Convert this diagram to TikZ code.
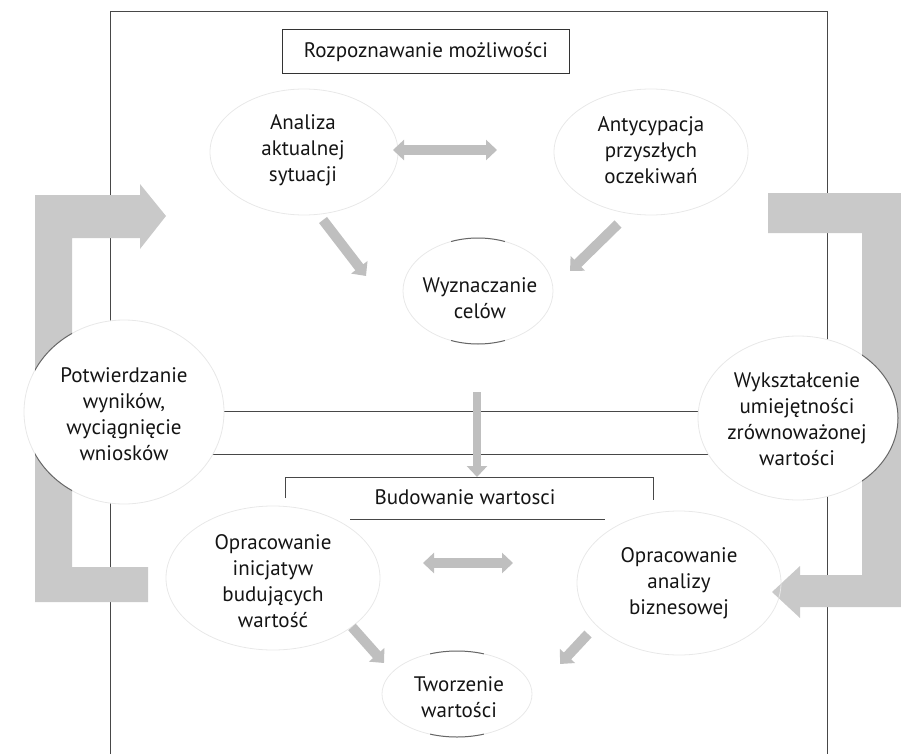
\documentclass[tikz,border=0pt]{standalone}
\usepackage{fontspec}
\setmainfont{PT Sans}
\usetikzlibrary{arrows.meta}
\begin{document}
\begin{tikzpicture}[x=1pt,y=-1pt,
  frameline/.style={draw=black!72,line width=1pt},
  bar/.style={fill=black!21,draw=none},
  faint/.style={draw=black!9,line width=0.8pt},
  darkarc/.style={draw=black!60,line width=1pt},
  fat/.style={draw=black!25,line width=10pt,-{Triangle[width=20pt,length=11pt]}},
  fatboth/.style={draw=black!25,line width=10pt,{Triangle[width=20pt,length=11pt]}-{Triangle[width=20pt,length=11pt]}},
  lbl/.style={align=center,font=\fontsize{21}{26}\selectfont,text=black!92,inner sep=0pt}
]
\useasboundingbox (0,0) rectangle (901,754);
% frame lines
\draw[frameline] (110,754) -- (110,12) -- (827,12) -- (827,754);
\draw[frameline] (110,411) -- (827,411);
\draw[frameline] (110,454) -- (827,454);
% big brackets
\path[bar] (35,195) -- (140,195) -- (140,184) -- (166,216) -- (140,249) -- (140,238) -- (72,238) -- (72,567) -- (148,567) -- (148,602) -- (35,602) -- cycle;
\path[bar] (905,193) -- (768,193) -- (768,233) -- (862,233) -- (862,575) -- (800,575) -- (800,566) -- (772,592) -- (800,618) -- (800,607) -- (905,607) -- cycle;
% side circles
\path[fill=white,faint] (124,412) ellipse [x radius=100, y radius=92];
\path[fill=white,faint] (798,418) ellipse [x radius=100, y radius=82];
\begin{scope}
  \clip (35,195) rectangle (72,602);
  \draw[darkarc] (124,412) ellipse [x radius=100, y radius=92];
\end{scope}
\begin{scope}
  \clip (862,193) rectangle (905,607);
  \draw[darkarc] (798,418) ellipse [x radius=100, y radius=82];
\end{scope}
% faint inner circles
\draw[faint] (304,152) ellipse [x radius=94, y radius=63];
\draw[faint] (651,152) ellipse [x radius=97, y radius=63];
\draw[faint] (478,291) ellipse [x radius=75, y radius=53];
\draw[faint] (273,578) ellipse [x radius=107, y radius=72];
\draw[faint] (679,583) ellipse [x radius=102, y radius=72];
\draw[faint] (457,694) ellipse [x radius=75, y radius=43];
% darker arc pieces
\draw[darkarc] ([shift={(249:75 and 53)}]478,291) arc[start angle=249,end angle=291,x radius=75,y radius=53];
\draw[darkarc] ([shift={(69:75 and 53)}]478,291) arc[start angle=69,end angle=111,x radius=75,y radius=53];
\draw[darkarc] ([shift={(249:75 and 43)}]457,694) arc[start angle=249,end angle=291,x radius=75,y radius=43];
\draw[darkarc] ([shift={(69:75 and 43)}]457,694) arc[start angle=69,end angle=111,x radius=75,y radius=43];
% title box
\node[lbl,draw=black!80,line width=1pt,minimum width=287pt,minimum height=44pt] (roz) at (426,52) {Rozpoznawanie możliwości};
% Budowanie bracket lines
\coordinate (budTL) at (285,498);
\coordinate (budTR) at (653,500);
\draw[frameline] (budTL) -- (285,477) -- (653,477) -- (budTR);
\draw[frameline] (350,519) -- (605,519);
% texts
\node[lbl] (ana) at (303,150) {Analiza\\aktualnej\\sytuacji};
\node[lbl] (ant) at (651,150) {Antycypacja\\przyszłych\\oczekiwań};
\node[lbl] (wyz) at (480,298) {Wyznaczanie\\celów};
\node[lbl] (pot) at (124,414) {Potwierdzanie\\wyników,\\wyciągnięcie\\wniosków};
\node[lbl] (wyk) at (797,419) {Wykształcenie\\umiejętności\\zrównoważonej\\wartości};
\node[lbl] (bud) at (465,497) {Budowanie wartosci};
\node[lbl] (opi) at (273,581) {Opracowanie\\inicjatyw\\budujących\\wartość};
\node[lbl] (opa) at (679,583) {Opracowanie\\analizy\\biznesowej};
\node[lbl] (two) at (459,697) {Tworzenie\\wartości};
% arrow end points
\coordinate (a1) at (393,150); \coordinate (a2) at (497,150);
\coordinate (d1s) at (323,220); \coordinate (d1e) at (366,276);
\coordinate (d2s) at (618,224); \coordinate (d2e) at (570,271);
\coordinate (vs) at (477,392); \coordinate (ve) at (477,477);
\coordinate (b1) at (423,563); \coordinate (b2) at (513,563);
\coordinate (d3s) at (352,627); \coordinate (d3e) at (384,663);
\coordinate (d4s) at (588,634); \coordinate (d4e) at (560,664);
% small arrows
\draw[fatboth] (a1) -- (a2);
\draw[fat] (d1s) -- (d1e);
\draw[fat] (d2s) -- (d2e);
\draw[fat,line width=8pt] (vs) -- (ve);
\draw[fatboth] (b1) -- (b2);
\draw[fat] (d3s) -- (d3e);
\draw[fat] (d4s) -- (d4e);
\end{tikzpicture}
\end{document}
